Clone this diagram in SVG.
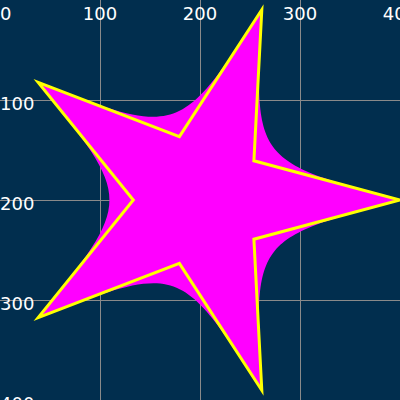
<svg xmlns="http://www.w3.org/2000/svg" width="400" height="400" viewBox="0 0 400 400">
<style>
.grid{stroke:#8a8a8a;stroke-width:1;fill:none}
.lbl{font-family:"DejaVu Sans",sans-serif;font-size:18px;fill:#ffffff}
.top{text-anchor:middle}
</style>
<rect x="0" y="0" width="400" height="400" fill="#012e4e"/>
<g id="grid">
<path class="grid" d="M100.5,0V400M200.5,0V400M300.5,0V400M0,100.5H400M0,200.5H400M0,300.5H400"/>
</g>
<g id="labels">
<text class="lbl" x="0" y="19.5">0</text>
<text class="lbl top" x="100" y="19.5">100</text>
<text class="lbl top" x="200" y="19.5">200</text>
<text class="lbl top" x="300" y="19.5">300</text>
<text class="lbl top" x="400" y="19.5">400</text>
<text class="lbl" x="0" y="110">100</text>
<text class="lbl" x="0" y="210">200</text>
<text class="lbl" x="0" y="310">300</text>
<text class="lbl" x="0" y="410">400</text>
</g>
<g id="star-curved">
<path fill="#ff00ff" d="M261.8,9.8 C253.9,160.8 253.9,160.8 400,200 C253.9,239.2 253.9,239.2 261.8,390.2 C179.4,263.4 179.4,263.4 38.2,317.6 C133.3,200 133.3,200 38.2,82.4 C179.4,136.6 179.4,136.6 261.8,9.8 Z"/>
</g>
<g id="star-polygon">
<polygon fill="none" stroke="#ffff00" stroke-width="3" points="261.8,9.8 253.9,160.8 400,200 253.9,239.2 261.8,390.2 179.4,263.4 38.2,317.6 133.3,200 38.2,82.4 179.4,136.6"/>
</g>
</svg>
